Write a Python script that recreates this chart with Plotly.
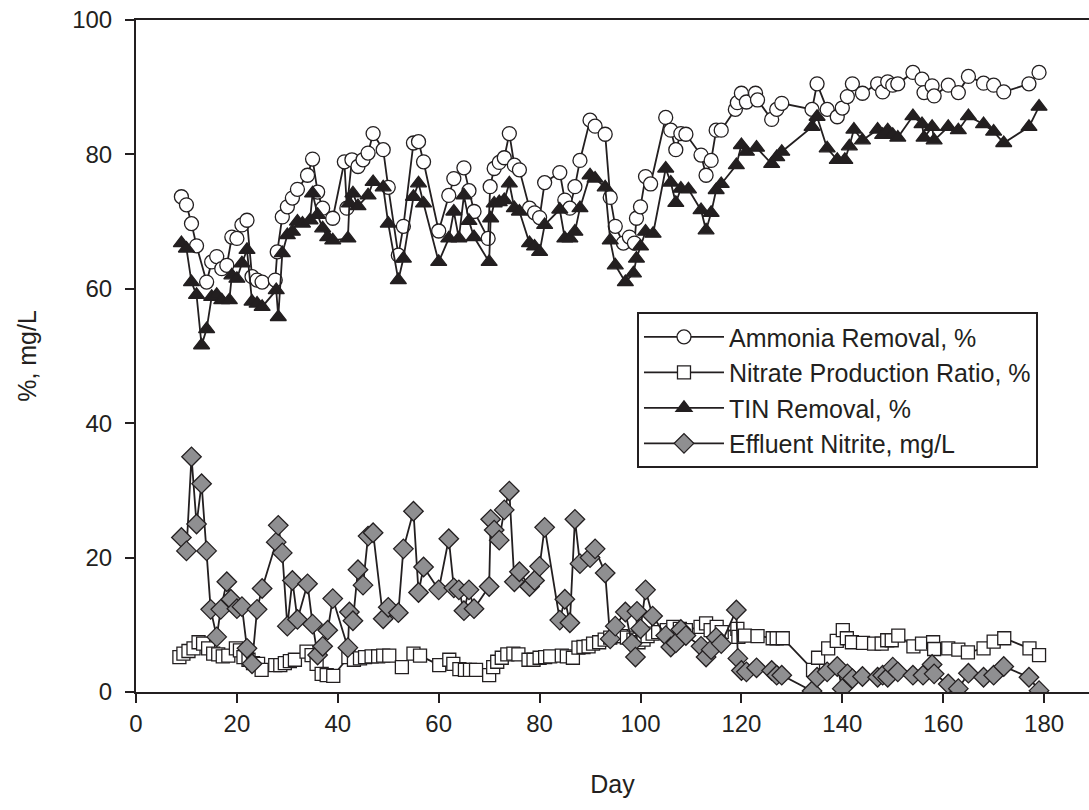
import plotly.graph_objects as go

# ---------------- data ----------------
am_day = [9,10,11,12,14,15,16,17,18,19,20,21,22,23,24,25,27.6,28,29,30,31,32,34,35,36,37,39,41.3,41.8,42.8,
          44,45,46,47,49,50,52,53,55,56,57,60,62,63,65,66,67,69.8,70.2,71,72,73,74,75,76,78,79,80,81,84,
          85,86,87,88,90,91,93,94,95,96.6,97.8,98.8,99.2,100,101,102,105,106,107,108,109,112,113,114,115,116,
          118.8,119.2,120,121,122.8,123.2,126,127,128,134,135,137,139,140,141,142,144,147,148,149,150,151,154,
          155.8,156.2,157.8,158.2,161,163,165,168,170,172,177,179]
am_val = [73.7,72.5,69.7,66.4,61.0,64.0,64.8,63.0,63.5,67.7,67.5,69.5,70.2,61.8,61.3,61.0,61.3,65.5,70.7,72.2,
          73.5,74.8,76.9,79.3,74.4,72.0,70.5,78.9,72.0,79.2,78.2,79.2,80.2,83.1,80.7,75.1,65.0,69.3,81.7,81.9,
          78.9,68.6,73.9,76.4,78.0,74.6,71.5,67.5,75.2,77.9,78.8,79.5,83.1,78.4,77.7,72.0,71.3,70.6,75.8,77.3,
          73.2,72.0,75.2,79.1,85.1,84.2,83.0,73.6,69.3,66.8,67.7,66.8,70.5,72.2,76.7,75.6,85.5,83.6,80.7,83.1,
          83.0,79.9,76.9,79.1,83.6,83.6,86.7,87.7,89.1,87.8,89.1,88.1,85.2,86.7,87.6,86.7,90.5,86.7,85.6,86.9,
          88.6,90.5,89.1,90.5,89.3,90.8,90.3,90.5,92.2,91.2,89.2,90.2,88.7,90.3,89.2,91.6,90.6,90.3,89.3,90.5,
          92.2]

nr_day = [8.6,9.4,10.4,11.4,12.4,13.3,14.3,15.3,16.3,17.2,18.3,19.8,20.6,21.3,22.3,23.2,24.2,24.9,27.6,28.6,
          29.5,30.5,31.5,33.8,34.8,35.8,36.8,37.8,39.1,42.1,43.2,44.4,45.4,46.7,48,49,50.2,52.7,55,56.3,
          60.1,62.1,62.9,64.1,65.2,66.2,67.4,70,70.8,71.6,72.5,73.6,74.8,75.8,77.8,78.8,80,81.1,82.1,84.4,
          85.4,86.6,87.7,88.7,89.7,90.6,91.8,92.9,94,95,96.1,97.3,98.6,99.6,100.6,101.4,102.4,103.5,105.2,106.5,
          107.8,109,111.9,113,113.9,115.1,116.1,119.2,119.4,120.7,123.2,126.2,127,128.2,134.2,135.2,137.2,138.9,140.1,140.9,
          141.9,144.1,146.3,147.8,148.9,149.8,151.1,154.1,155.8,158,158.2,161,163,164.9,168,170,172.1,177.1,179]
nr_val = [5.2,5.7,6.1,6.5,7.4,7.2,6.5,5.7,5.6,5.3,5.4,6.5,6.2,5.2,4.8,4.3,4.2,3.3,4.0,4.0,
          4.3,4.6,4.8,6.0,5.5,4.2,2.7,2.5,2.4,5.2,4.8,5.0,5.2,5.3,5.3,5.4,5.4,3.7,5.7,5.4,
          4.0,4.8,4.2,3.4,3.3,3.3,3.3,2.5,3.7,4.5,5.1,5.6,5.7,5.6,4.8,4.8,5.1,5.2,5.3,5.4,
          5.3,5.1,6.6,6.7,6.8,7.2,7.4,7.8,8.1,8.3,8.3,8.1,7.8,7.4,7.8,8.3,8.7,8.9,9.2,9.7,
          9.4,9.2,9.7,10.2,9.2,9.7,8.9,9.4,8.2,8.4,8.3,8.0,8.0,8.0,3.3,5.1,6.5,7.6,9.2,8.0,
          7.4,7.3,7.2,7.2,7.7,7.7,8.4,6.8,7.2,7.4,6.4,6.5,6.3,5.9,6.5,7.5,8.0,6.5,5.5]

tin_day = [9,10,11,12,13,14,15,16,17,18.5,19,20,21,22,23,24,25,27.8,28.2,29,30,31,32,33,34.5,35,36,37,38,39,
           42,42.3,43,44,46,47,49,50,52,53,55,56,57,60,62,63,64,65,66,67,70,70.3,71,72,73,74,75,76,78,79,
           80,81,84,85,86,87,88,90,91,93,94,95,97,98.6,99.2,100,101,102.5,105,106,107,108,109.5,112,113,114,115,116,119,120,
           121,123,126,127,128,134,135,137,139,140.5,141.4,142.3,144,147,148,149,150,151,154,155.8,
           156.2,157.8,158.2,161,163,165,168,170,172,177,179]
tin_val = [66.8,66.0,61.0,59.1,51.6,54.0,58.8,59.1,58.3,58.3,62.0,61.5,63.8,65.8,58.1,57.8,57.3,59.8,55.8,65.3,
           68.0,68.5,70.0,69.7,70.2,74.2,71.0,69.0,67.7,67.2,67.5,72.7,74.2,72.3,73.9,75.9,75.1,69.7,61.3,64.5,
           73.7,75.7,72.7,64.0,67.5,71.5,67.5,73.9,70.1,67.7,64.0,70.5,72.7,72.9,73.2,75.7,72.0,71.5,66.8,66.3,
           65.5,69.5,71.8,67.5,67.5,68.5,72.0,76.9,76.4,75.1,67.2,63.5,61.0,62.3,64.5,66.3,68.5,68.2,77.9,75.8,
           72.8,74.9,74.8,71.7,68.7,71.3,74.7,75.6,78.4,81.4,80.4,81.0,78.6,79.6,80.4,84.1,85.6,80.9,79.2,79.2,
           81.2,83.7,82.1,83.7,82.9,83.6,82.9,82.5,85.7,84.5,82.5,84.1,82.1,84.1,83.6,85.7,84.5,83.4,81.7,84.1,
           87.1]

ni_day = [9,10,11,12,13,14,14.8,16,16.8,18,18.8,20,21,22,23,24,25,27.8,28.2,29,30,31,32,34,35,36,37,38,39,42,
          42.3,43,44,45,46,47,49,50,52,53,55,56,57,60,62,63,64,65,66,67,70,70.3,71,72,73,74,75,76,78,79,
          80,81,84,85,86,87,88,90,91,93,94,95,97,98.3,99,99.3,100,101,102.4,105,106,107,108,109,112,113,114,115,116,119,
          119.3,120,121,123,126,127,128,134,135,137,139,140,141,142,144,147,148,149,150,151,154,156,157.8,158.2,
          161,163,165,168,170,172,177,179]
ni_val = [23.0,21.0,35.0,25.0,31.0,21.0,12.3,8.2,12.3,16.4,13.8,12.4,12.7,6.5,4.2,12.3,15.4,22.3,24.8,20.7,
          9.8,16.6,10.8,16.1,10.1,5.5,6.8,9.2,13.9,6.6,11.9,10.6,18.2,15.9,23.2,23.7,10.9,12.6,11.8,21.3,
          26.9,14.8,18.6,15.2,22.8,15.5,15.2,12.1,15.2,12.4,15.7,25.7,24.1,22.6,27.1,29.9,16.4,17.9,15.7,16.6,
          18.7,24.5,10.7,13.8,10.3,25.7,19.1,20.0,21.3,17.7,7.9,9.8,11.9,7.2,5.2,12.0,9.4,15.2,11.3,8.4,
          6.7,7.3,9.3,8.4,6.8,5.2,6.3,8.1,7.2,12.2,5.0,3.2,3.0,3.6,3.2,2.5,2.5,0.15,2.2,3.0,
          3.8,0.5,2.7,2.0,2.3,2.2,2.5,2.2,3.7,3.0,2.5,2.5,4.1,2.7,1.2,0.5,2.8,2.2,2.5,3.8,
          2.2,0.2]

x_ticks = [0, 20, 40, 60, 80, 100, 120, 140, 160, 180]
y_ticks = [0, 20, 40, 60, 80, 100]

names = ["Ammonia Removal, %", "Nitrate Production Ratio, %", "TIN Removal, %", "Effluent Nitrite, mg/L"]

# ---------------- styling ----------------
INK = "#231f20"
FONT = "Liberation Sans, Arial, sans-serif"

fig = go.Figure()

def add(x, y, name, symbol, size, fill):
    fig.add_trace(go.Scatter(
        x=x, y=y, name=name, mode="lines+markers",
        line=dict(color=INK, width=1.8),
        marker=dict(symbol=symbol, size=size, color=fill,
                    line=dict(color=INK, width=1.3)),
    ))

add(am_day, am_val, names[0], "circle", 14, "white")
add(nr_day, nr_val, names[1], "square", 13, "white")
add(tin_day, tin_val, names[2], "triangle-up", 14, INK)
add(ni_day, ni_val, names[3], "diamond", 15, "#8f8f91")

axis_common = dict(
    showline=True, linecolor=INK, linewidth=2,
    ticks="outside", ticklen=9, tickwidth=2, tickcolor=INK,
    showgrid=False, zeroline=False,
    tickfont=dict(family=FONT, size=24, color=INK),
)

fig.update_layout(
    width=1089, height=810,
    margin=dict(l=136, r=0, t=20, b=118),
    paper_bgcolor="white", plot_bgcolor="white",
    font=dict(family=FONT, size=24, color=INK),
    xaxis=dict(range=[0, 188.9], tickvals=x_ticks, mirror=True,
               title=dict(text="Day", font=dict(family=FONT, size=25, color=INK), standoff=40),
               **axis_common),
    yaxis=dict(range=[0, 100], tickvals=y_ticks, mirror=False, ticklabelstandoff=8,
               title=dict(text="%, mg/L", font=dict(family=FONT, size=25, color=INK), standoff=28),
               **axis_common),
    showlegend=True,
    legend=dict(x=0.5257, y=0.5653, xanchor="left", yanchor="top",
                bgcolor="white", bordercolor=INK, borderwidth=2,
                font=dict(family=FONT, size=25, color=INK),
                itemwidth=80, tracegroupgap=0),
)

fig.write_html("out.html")
